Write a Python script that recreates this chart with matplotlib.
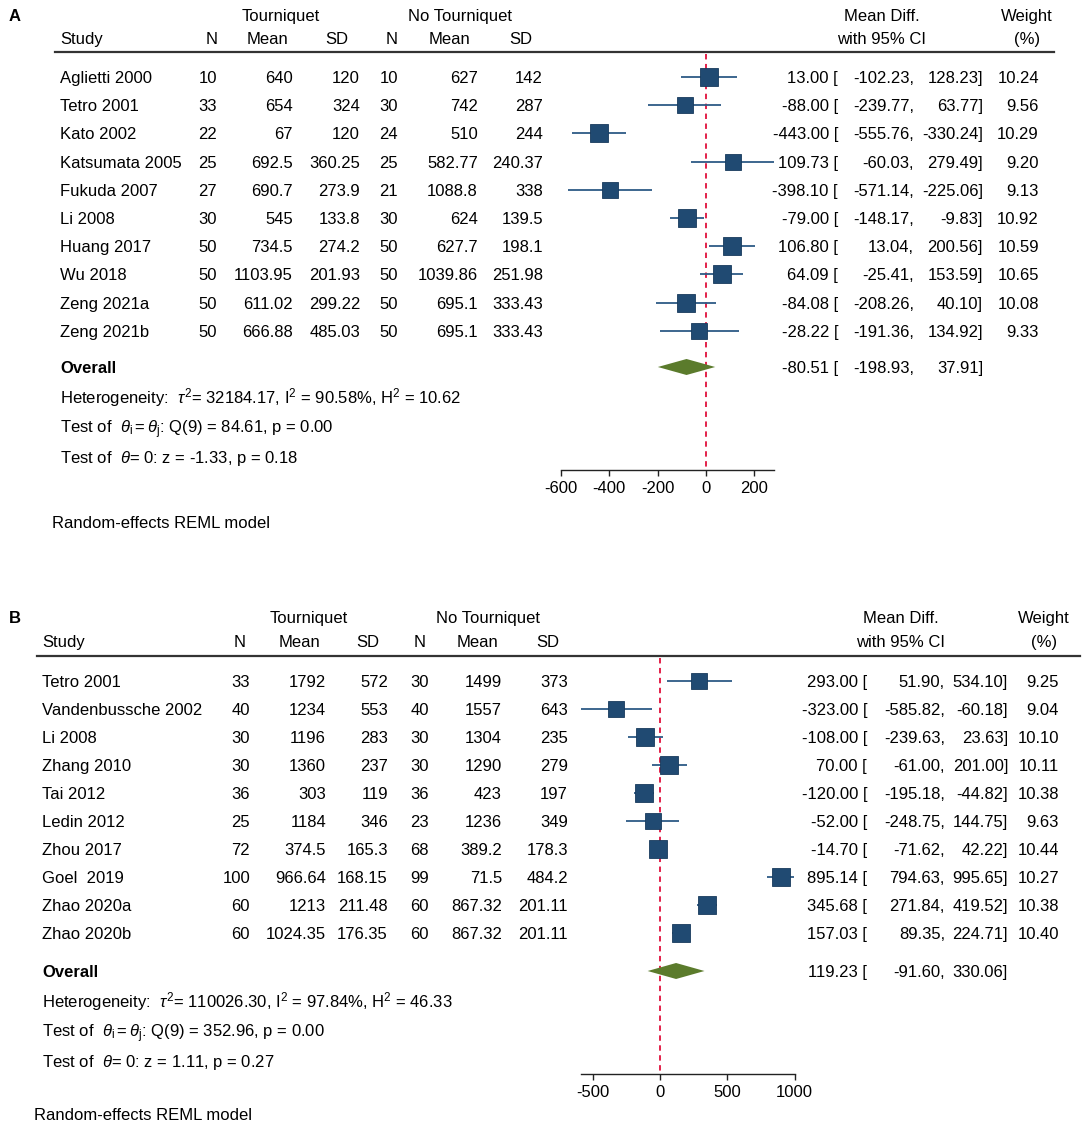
import numpy as np
import matplotlib
matplotlib.use('Agg')
import matplotlib.pyplot as plt

plt.rcParams['font.family'] = ['Liberation Sans', 'DejaVu Sans']
plt.rcParams['mathtext.fontset'] = 'custom'
plt.rcParams['mathtext.rm'] = 'Liberation Sans'
plt.rcParams['mathtext.it'] = 'Liberation Sans:italic'

# ---- panel A data
studies_a = ['Aglietti 2000', 'Tetro 2001', 'Kato 2002', 'Katsumata 2005', 'Fukuda 2007',
             'Li 2008', 'Huang 2017', 'Wu 2018', 'Zeng 2021a', 'Zeng 2021b']
n1_a = [10, 33, 22, 25, 27, 30, 50, 50, 50, 50]
mean1_a = [640, 654, 67, 692.5, 690.7, 545, 734.5, 1103.95, 611.02, 666.88]
sd1_a = [120, 324, 120, 360.25, 273.9, 133.8, 274.2, 201.93, 299.22, 485.03]
n2_a = [10, 30, 24, 25, 21, 30, 50, 50, 50, 50]
mean2_a = [627, 742, 510, 582.77, 1088.8, 624, 627.7, 1039.86, 695.1, 695.1]
sd2_a = [142, 287, 244, 240.37, 338, 139.5, 198.1, 251.98, 333.43, 333.43]
md_a = [13.00, -88.00, -443.00, 109.73, -398.10, -79.00, 106.80, 64.09, -84.08, -28.22]
lo_a = [-102.23, -239.77, -555.76, -60.03, -571.14, -148.17, 13.04, -25.41, -208.26, -191.36]
hi_a = [128.23, 63.77, -330.24, 279.49, -225.06, -9.83, 200.56, 153.59, 40.10, 134.92]
w_a = [10.24, 9.56, 10.29, 9.20, 9.13, 10.92, 10.59, 10.65, 10.08, 9.33]
overall_a = [-80.51, -198.93, 37.91]
ticks_a = [-600, -400, -200, 0, 200]
het_a = [r'Heterogeneity:  $\tau^2$= 32184.17, I$^2$ = 90.58%, H$^2$ = 10.62',
         r'Test of  $\theta_{\rm i}=\theta_{\rm j}$: Q(9) = 84.61, p = 0.00',
         r'Test of  $\theta$= 0: z = -1.33, p = 0.18']

# ---- panel B data
studies_b = ['Tetro 2001', 'Vandenbussche 2002', 'Li 2008', 'Zhang 2010', 'Tai 2012',
             'Ledin 2012', 'Zhou 2017', 'Goel  2019', 'Zhao 2020a', 'Zhao 2020b']
n1_b = [33, 40, 30, 30, 36, 25, 72, 100, 60, 60]
mean1_b = [1792, 1234, 1196, 1360, 303, 1184, 374.5, 966.64, 1213, 1024.35]
sd1_b = [572, 553, 283, 237, 119, 346, 165.3, 168.15, 211.48, 176.35]
n2_b = [30, 40, 30, 30, 36, 23, 68, 99, 60, 60]
mean2_b = [1499, 1557, 1304, 1290, 423, 1236, 389.2, 71.5, 867.32, 867.32]
sd2_b = [373, 643, 235, 279, 197, 349, 178.3, 484.2, 201.11, 201.11]
md_b = [293.00, -323.00, -108.00, 70.00, -120.00, -52.00, -14.70, 895.14, 345.68, 157.03]
lo_b = [51.90, -585.82, -239.63, -61.00, -195.18, -248.75, -71.62, 794.63, 271.84, 89.35]
hi_b = [534.10, -60.18, 23.63, 201.00, -44.82, 144.75, 42.22, 995.65, 419.52, 224.71]
w_b = [9.25, 9.04, 10.10, 10.11, 10.38, 9.63, 10.44, 10.27, 10.38, 10.40]
overall_b = [119.23, -91.60, 330.06]
ticks_b = [-500, 0, 500, 1000]
het_b = [r'Heterogeneity:  $\tau^2$= 110026.30, I$^2$ = 97.84%, H$^2$ = 46.33',
         r'Test of  $\theta_{\rm i}=\theta_{\rm j}$: Q(9) = 352.96, p = 0.00',
         r'Test of  $\theta$= 0: z = 1.11, p = 0.27']

W, H = 1084, 1124
SQ = '#204a72'
LN = '#2d5a86'
DIA = '#5b7b2c'
RED = '#e0103c'
FS = 12

fig = plt.figure(figsize=(W / 100, H / 100), dpi=100)
# overlay axes in pixel coordinates for the table text
tax = fig.add_axes([0, 0, 1, 1])
tax.set_xlim(0, W)
tax.set_ylim(H, 0)
tax.axis('off')


def fmt(v):
    return '{:g}'.format(v)


def txt(x, y, s, ha='right', **kw):
    # baseline placed so that capitals are centred on y
    tax.text(x, y + 6, s, fontsize=FS, ha=ha, va='baseline', **kw)


def draw_panel(label, p, studies, n1, m1, s1, n2, m2, s2, md, lo, hi, w, overall,
               ticks, het, c, zero_px, scale, ax_px):
    rows = p['y0'] + p['dy'] * np.arange(len(studies))
    y_over = p['over']
    y_het = [p['het'], p['het'] + p['hdy'], p['het'] + 2 * p['hdy']]
    y_axis = p['axis']
    y_line = p['line']

    # labels and headers
    txt(c['lab'], p['top'], label, ha='left', fontweight='bold')
    txt(c['torn'], p['top'], 'Tourniquet', ha='center')
    txt(c['notorn'], p['top'], 'No Tourniquet', ha='center')
    txt(c['mdh'], p['top'], 'Mean Diff.', ha='center')
    txt(c['wh'], p['top'], 'Weight', ha='center')
    yh = p['hdr']
    txt(c['study'], yh, 'Study', ha='left')
    for key, s in zip(['h1', 'h2', 'h3', 'h4', 'h5', 'h6'], ['N', 'Mean', 'SD', 'N', 'Mean', 'SD']):
        txt(c[key], yh, s, ha='center')
    txt(c['mdh'], yh, 'with 95% CI', ha='center')
    txt(c['wh'], yh, '(%)', ha='center')
    tax.plot([c['study'] - 5, c['lineend']], [y_line, y_line], color='#333333', lw=1.6)

    # study rows
    for i, y in enumerate(rows):
        txt(c['study'], y, studies[i], ha='left')
        txt(c['n1'], y, str(n1[i]))
        txt(c['m1'], y, fmt(m1[i]))
        txt(c['s1'], y, fmt(s1[i]))
        txt(c['n2'], y, str(n2[i]))
        txt(c['m2'], y, fmt(m2[i]))
        txt(c['s2'], y, fmt(s2[i]))
        txt(c['md'], y, '%.2f [' % md[i])
        txt(c['lo'], y, '%.2f,' % lo[i])
        txt(c['hi'], y, '%.2f]' % hi[i])
        txt(c['w'], y, '%.2f' % w[i])

    txt(c['study'], y_over, 'Overall', ha='left', fontweight='bold')
    txt(c['md'], y_over, '%.2f [' % overall[0])
    txt(c['lo'], y_over, '%.2f,' % overall[1])
    txt(c['hi'], y_over, '%.2f]' % overall[2])
    for yy, s in zip(y_het, het):
        txt(c['study'], yy, s, ha='left')
    txt(c['study'] - 8, p['rand'], 'Random-effects REML model', ha='left')

    # forest plot axes: x in data units, y in pixels
    left_px, right_px = ax_px
    ytop_ax, ybot_ax = y_line, y_axis + 40
    ax = fig.add_axes([left_px / W, 1 - ybot_ax / H, (right_px - left_px) / W, (ybot_ax - ytop_ax) / H])
    ax.set_xlim((left_px - zero_px) / scale, (right_px - zero_px) / scale)
    ax.set_ylim(ybot_ax, ytop_ax)
    ax.patch.set_visible(False)
    for s in ['top', 'left', 'right']:
        ax.spines[s].set_visible(False)
    ax.set_yticks([])

    ax.plot([0, 0], [y_line + 2, y_axis], color=RED, lw=1.3, ls=(0, (3, 2.5)), zorder=1)
    ax.hlines(rows, lo, hi, color=LN, lw=1.3, zorder=2)
    for i, y in enumerate(rows):
        ax.plot(md[i], y, marker='s', ms=12.2 * np.sqrt(w[i] / 10), color=SQ,
                mec='#183a5c', mew=0.6, zorder=3)
    dh = 8
    ax.fill([overall[1], overall[0], overall[2], overall[0]],
            [y_over, y_over - dh, y_over, y_over + dh], color=DIA, lw=0, zorder=3)

    ax.spines['bottom'].set_position(('data', y_axis))
    ax.spines['bottom'].set_bounds(min(ticks[0], min(lo)), max(ticks[-1], max(hi)))
    ax.spines['bottom'].set_color('#222222')
    ax.spines['bottom'].set_linewidth(1.0)
    ax.set_xticks(ticks)
    ax.set_xticklabels([str(t) for t in ticks])
    ax.tick_params(axis='x', direction='out', length=4, width=1.0, labelsize=12, pad=4,
                   colors='#222222', labelcolor='black')


pos_a = dict(top=15, hdr=38, line=52, y0=77, dy=28.2, over=367, het=397, hdy=30,
             axis=470, rand=522)
pos_b = dict(top=617, hdr=641, line=656, y0=681, dy=28.0, over=971, het=1001, hdy=30,
             axis=1074, rand=1114)

cols_a = dict(lab=9, study=60, torn=281, notorn=460, mdh=882, wh=1027, lineend=1054,
              h1=212, h2=267, h3=337, h4=392, h5=450, h6=521,
              n1=217, m1=293, s1=360, n2=398, m2=478, s2=543,
              md=838, lo=914, hi=983, w=1039)
cols_b = dict(lab=9, study=42, torn=309, notorn=488, mdh=901, wh=1044, lineend=1080,
              h1=240, h2=299, h3=368, h4=420, h5=478, h6=548,
              n1=250, m1=326, s1=388, n2=429, m2=502, s2=568,
              md=867, lo=945, hi=1008, w=1059)

draw_panel('A', pos_a, studies_a, n1_a, mean1_a, sd1_a, n2_a, mean2_a, sd2_a,
           md_a, lo_a, hi_a, w_a, overall_a, ticks_a, het_a, cols_a, 706, 0.242, (540, 800))
draw_panel('B', pos_b, studies_b, n1_b, mean1_b, sd1_b, n2_b, mean2_b, sd2_b,
           md_b, lo_b, hi_b, w_b, overall_b, ticks_b, het_b, cols_b, 660, 0.1347, (560, 820))

fig.savefig('out.png', dpi=100, facecolor='white')
